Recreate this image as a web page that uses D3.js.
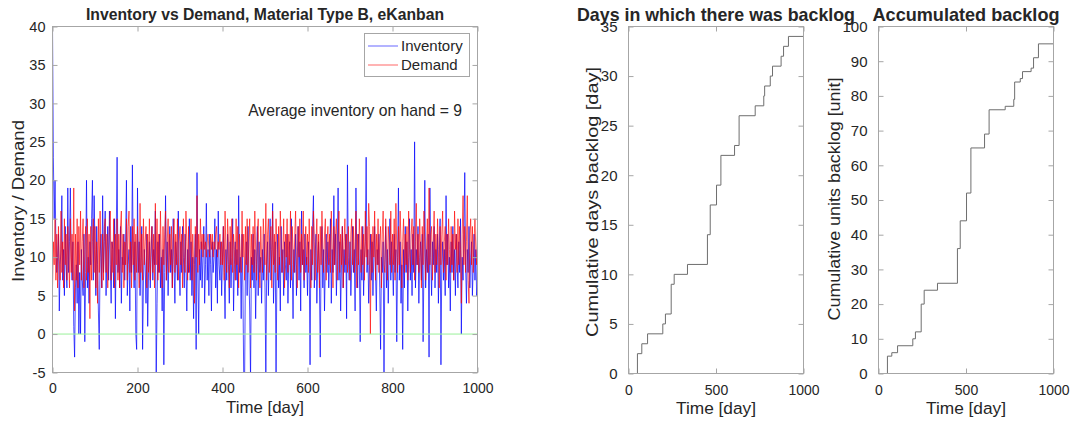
<!DOCTYPE html>
<html>
<head>
<meta charset="utf-8">
<script src="https://cdn.jsdelivr.net/npm/d3@7"></script>
<style>
  body { margin: 0; background: #fff; }
  text { font-family: "Liberation Sans", Arial, sans-serif; fill: #262626; }
</style>
</head>
<body>
<div id="container"></div>
<script>
// inventory and demand, one value every dayStep days (day 0 .. 1000)
let dayStep = 2;
let inventory = [
  40, 23, 15, 20, 12, 8, 10, 13, 3, 9, 11, 18, 7, 11, 5, 14, 9, 6, 19, 8, 12, 19, 10, 7, 12,
  1, -3, 6, 9, 4, 12, 0, 8, 0, 11, 7, 5, 13, -1, 8, 20, 6, 10, 4, 12, 9, 15, 20, 7, 18,
  11, 5, 14, 9, 3, -2, 10, 13, 6, 18, 8, 12, 16, 5, 10, 14, 7, 16, 9, 4, 12, 11, 6, 15, 2,
  13, 23, 8, 11, 6, 14, 4, 10, 9, 13, 7, 12, 20, 5, 9, 11, 3, 14, 8, 22, 10, 6, 12, 0, -2,
  19, 8, 12, 5, 10, 14, -2, 7, 11, 9, 4, 13, 1, 8, 12, 6, 10, 14, 7, 11, 9, 16, -6, 4, 12,
  8, 13, 6, 10, 3, 11, -4, 8, 18, 7, 12, 5, 10, 14, 8, 11, 6, 15, 9, 4, 12, 10, 7, 16, 9,
  5, 12, 8, 14, 10, 6, 13, 9, 3, 11, 8, 15, 7, 12, 5, 10, 2, 9, 13, -2, 21, 8, 0, 11, 7,
  12, 6, 10, 14, 4, 9, 17, 7, 11, 5, 13, 9, 3, 12, 8, 10, 15, 6, 11, 4, 16, 9, 7, 12, 5,
  10, 14, 8, 2, 11, 7, 13, 9, 4, 12, 6, 10, 15, 3, 9, 12, 7, 11, 5, 18, 8, 10, 2, 13, 6,
  -6, -6, 9, 12, 5, 14, 8, 3, -6, 10, 7, 13, 6, 11, 2, 9, 14, 5, 12, 8, 10, 4, 11, 7, 13,
  6, -6, 9, 12, 5, 10, 15, 7, 11, 17, 4, 9, 12, -6, 8, 13, 6, 10, 3, 14, 8, 11, 5, 12, 9,
  7, 13, 4, 10, 12, 6, 15, 9, 2, 11, 8, 13, 5, 10, 14, 7, 12, 3, 16, 9, 11, 6, 13, 8, 10,
  5, 12, 9, -4, 11, 7, 14, 18, 6, 10, 13, 4, 9, 12, 7, -3, 10, 14, 6, 11, 3, 9, 13, 8, 12,
  6, 10, 15, 4, 11, 8, 18, 9, 13, 5, 10, 19, 7, 12, 3, 9, 14, 6, 11, 8, 13, 2, 22, 10, 7,
  12, 5, 9, 14, 8, 11, 3, 19, 10, 6, 13, 9, -1, 11, 7, 14, 5, 10, 12, 23, 8, 11, 4, 9, 13,
  7, 12, 5, 10, 14, 8, 3, 11, 9, 13, 6, -2, 10, 8, 12, -6, 9, 14, 6, 11, 4, 10, 15, 7, 12,
  9, 5, 13, 8, 11, -1, 10, 19, 7, 12, 4, 9, -2, 11, 6, 14, 8, 12, 3, 10, 15, 7, 11, 5, 13,
  8, 25, 6, 11, 9, 14, 4, 10, 12, 7, 13, -1, 9, 20, 6, 11, 8, 13, -3, 19, 10, 5, 12, 9, 14,
  6, 11, 8, 13, 4, 10, 15, -4, 9, 12, 7, 11, 5, 18, 9, 13, 6, 10, 3, 12, 8, 14, 7, 11, 5,
  13, 9, 6, 12, 8, 15, 0, 10, 7, 13, 21, 9, 4, 11, 8, 14, 6, 10, 12, 5, 9, 13, 7, 11, 5,
  6
];
let demand = [
  6, 12, 9, 15, 7, 13, 6, 14, 10, 7, 16, 8, 12, 6, 15, 9, 13, 7, 14, 10, 6, 15, 8, 13, 7,
  19, 3, 13, 7, 15, 6, 14, 9, 16, 7, 12, 15, 6, 11, 14, 7, 15, 8, 13, 2, 14, 7, 12, 15, 8,
  14, 6, 12, 4, 15, 8, 16, 10, 6, 13, 7, 14, 15, 8, 13, 6, 11, 14, 16, 7, 12, 8, 15, 6, 13,
  9, 15, 7, 13, 6, 14, 16, 8, 13, 6, 12, 9, 15, 7, 14, 16, 8, 12, 6, 14, 9, 15, 7, 13, 8,
  14, 10, 6, 17, 8, 13, 7, 15, 9, 12, 14, 6, 13, 8, 15, 7, 12, 14, 8, 13, 6, 17, 9, 15, 7,
  13, 8, 16, 10, 6, 14, 9, 13, 16, 7, 12, 15, 8, 13, 9, 14, 6, 12, 15, 8, 13, 9, 15, 7, 12,
  14, 9, 13, 6, 15, 10, 8, 16, 12, 7, 14, 8, 11, 15, 7, 13, 9, 4, 14, 10, 18, 8, 13, 9, 15,
  11, 13, 10, 13, 11, 12, 10, 12, 13, 11, 10, 13, 11, 13, 10, 12, 11, 13, 14, 10, 12, 11, 13, 9, 12,
  9, 14, 7, 16, 11, 8, 15, 12, 6, 14, 9, 15, 8, 13, 11, 7, 15, 9, 14, 6, 13, 10, 8, 16, 10,
  13, 7, 14, 9, 15, 8, 12, 15, 6, 13, 9, 14, 8, 16, 11, 7, 13, 15, 9, 6, 14, 10, 8, 15, 12,
  9, 17, 7, 13, 15, 8, 12, 14, 6, 16, 9, 13, 8, 15, 11, 7, 14, 9, 16, 12, 8, 11, 15, 6, 13,
  10, 15, 8, 13, 9, 16, 7, 14, 11, 8, 13, 16, 9, 6, 14, 10, 15, 8, 13, 9, 16, 7, 12, 14, 9,
  13, 8, 15, 10, 6, 14, 9, 16, 12, 7, 12, 15, 8, 13, 6, 14, 9, 16, 11, 8, 13, 15, 7, 12, 14,
  9, 13, 8, 16, 11, 6, 14, 9, 13, 15, 7, 12, 16, 8, 13, 9, 14, 6, 12, 15, 9, 13, 8, 14, 10,
  7, 13, 15, 9, 14, 8, 12, 16, 6, 13, 9, 15, 11, 8, 14, 9, 13, 7, 16, 10, 14, 9, 17, 14, 0,
  13, 8, 14, 10, 16, 7, 13, 9, 15, 8, 12, 14, 6, 13, 16, 9, 8, 15, 11, 7, 14, 12, 9, 16, 8,
  13, 9, 15, 7, 17, 11, 8, 14, 9, 16, 12, 6, 12, 15, 8, 13, 9, 14, 7, 16, 11, 8, 13, 15, 9,
  14, 7, 12, 17, 9, 13, 8, 15, 11, 6, 14, 9, 16, 12, 7, 11, 15, 8, 19, 9, 13, 14, 7, 12, 16,
  8, 13, 9, 15, 11, 6, 14, 9, 13, 16, 8, 12, 14, 7, 13, 9, 15, 11, 8, 14, 9, 13, 7, 16, 11,
  13, 8, 15, 9, 14, 11, 4, 13, 18, 9, 14, 8, 12, 18, 7, 4, 13, 15, 9, 14, 8, 12, 15, 11, 9,
  14
];

// backlog step data
let backlogDays   = [0, 51, 76, 109, 196, 211, 244, 261, 337, 451, 467, 503, 528, 606, 632, 724, 773, 778, 810, 823, 872, 886, 914, 1000];
let cumDaysBacklog  = [0, 2, 3, 4, 5, 6, 9, 10, 11, 14, 17, 19, 22, 23, 26, 27, 28, 29, 30, 31, 32, 33, 34, 34];
let cumUnitsBacklog = [0, 5, 6, 8, 10, 12, 20, 24, 26, 36, 44, 52, 65, 69, 76, 77, 79, 84, 85, 87, 88, 91, 95, 95];

let w = 1073;
let h = 423;
let axisColor = '#a6a6a6';

let svg = d3.select('#container')
  .append('svg')
    .attr('width', w)
    .attr('height', h);

// draws a matlab style box with inward ticks on all sides
function drawBox(g, x, y, xTicks, yTicks, opt) {
  let [x0, x1] = x.range();
  let [y0, y1] = y.range();
  g.append('rect')
    .attr('x', x0).attr('y', y1)
    .attr('width', x1 - x0).attr('height', y0 - y1)
    .attr('fill', 'none')
    .attr('stroke', axisColor)
    .attr('stroke-width', 1);

  let fmt = function(d) { return String(d); };
  let bottom = g.append('g')
    .attr('transform', 'translate(0,' + y0 + ')')
    .call(d3.axisBottom(x).tickValues(xTicks).tickSize(-5).tickPadding(opt.xPad).tickFormat(fmt));
  let top = g.append('g')
    .attr('transform', 'translate(0,' + y1 + ')')
    .call(d3.axisTop(x).tickValues(xTicks).tickSize(-5).tickFormat(''));
  let left = g.append('g')
    .attr('transform', 'translate(' + x0 + ',0)')
    .call(d3.axisLeft(y).tickValues(yTicks).tickSize(-5).tickPadding(opt.yPad).tickFormat(fmt));
  let right = g.append('g')
    .attr('transform', 'translate(' + x1 + ',0)')
    .call(d3.axisRight(y).tickValues(yTicks).tickSize(-5).tickFormat(''));

  [bottom, top, left, right].forEach(function(a) {
    a.select('.domain').remove();
    a.selectAll('line').attr('stroke', axisColor);
    a.selectAll('text').attr('fill', '#262626')
      .style('font-family', '"Liberation Sans", Arial, sans-serif');
  });
  bottom.selectAll('text').style('font-size', opt.xFont + 'px');
  left.selectAll('text').style('font-size', opt.yFont + 'px');
}

// text with its length fixed to the width measured on the picture
function label(g, txt, x, y, size, len, bold, rotate) {
  let t = g.append('text')
    .attr('text-anchor', 'middle')
    .style('font-size', size + 'px')
    .attr('textLength', len)
    .attr('lengthAdjust', 'spacingAndGlyphs')
    .text(txt);
  if (rotate) {
    t.attr('transform', 'translate(' + x + ',' + y + ') rotate(-90)');
  } else {
    t.attr('x', x).attr('y', y);
  }
  if (bold) {
    t.style('font-weight', 'bold').attr('fill', '#000');
  }
  return t;
}

//----- left chart: inventory vs demand
let x1 = d3.scaleLinear().domain([0, 1000]).range([52.5, 477.5]);
let y1 = d3.scaleLinear().domain([-5, 40]).range([372.5, 26.5]);

let left = svg.append('g');

left.append('clipPath').attr('id', 'clipLeft')
  .append('rect')
    .attr('x', 52.5).attr('y', 26.5)
    .attr('width', 425).attr('height', 346);

let line1 = d3.line()
  .x(function(d, i) { return x1(i * dayStep); })
  .y(function(d) { return y1(d); });

left.append('path')
  .datum(inventory)
  .attr('d', line1)
  .attr('clip-path', 'url(#clipLeft)')
  .attr('fill', 'none')
  .attr('stroke', '#0000ff')
  .attr('stroke-width', 0.7);

left.append('path')
  .datum(demand)
  .attr('d', line1)
  .attr('clip-path', 'url(#clipLeft)')
  .attr('fill', 'none')
  .attr('stroke', '#ff0000')
  .attr('stroke-width', 0.8)
  .attr('stroke-opacity', 0.8);

// zero line
left.append('line')
  .attr('x1', x1(0)).attr('x2', x1(1000))
  .attr('y1', y1(0)).attr('y2', y1(0))
  .attr('stroke', '#9af09a')
  .attr('stroke-width', 1);

drawBox(left, x1, y1, d3.range(0, 1001, 200), d3.range(-5, 41, 5),
  { xPad: 11, yPad: 7, xFont: 14, yFont: 14.5 });

// legend
let legend = left.append('g');
legend.append('rect')
  .attr('x', 364.5).attr('y', 33.5)
  .attr('width', 105).attr('height', 43)
  .attr('fill', '#fff')
  .attr('stroke', axisColor);
let legendItems = [['Inventory', '#0000ff', 46], ['Demand', '#ff0000', 65]];
legendItems.forEach(function(d) {
  legend.append('line')
    .attr('x1', 368).attr('x2', 398)
    .attr('y1', d[2]).attr('y2', d[2])
    .attr('stroke', d[1]).attr('stroke-width', 0.6);
  legend.append('text')
    .attr('x', 401).attr('y', d[2] + 5)
    .style('font-size', '15px')
    .text(d[0]);
});

left.append('text')
  .attr('x', 462).attr('y', 116)
  .attr('text-anchor', 'end')
  .style('font-size', '15.7px')
  .text('Average inventory on hand = 9');

label(left, 'Inventory vs Demand, Material Type B, eKanban', 265, 20, 15.7, 358, true, false);
label(left, 'Time [day]', 265, 413, 16.5, 78, false, false);
label(left, 'Inventory / Demand', 24, 201, 16.5, 162, false, true);

//----- step charts
function stepChart(x0, x1r, yMax, yTicks, values, title, titleLen, ylabel, ylabelX, ylabelY, ylabelLen) {
  let x = d3.scaleLinear().domain([0, 1000]).range([x0, x1r]);
  let y = d3.scaleLinear().domain([0, yMax]).range([373.5, 26.5]);
  let g = svg.append('g');

  let step = d3.line()
    .x(function(d, i) { return x(backlogDays[i]); })
    .y(function(d) { return y(d); })
    .curve(d3.curveStepAfter);

  g.append('path')
    .datum(values)
    .attr('d', step)
    .attr('fill', 'none')
    .attr('stroke', '#6e6e6e')
    .attr('stroke-width', 1);

  drawBox(g, x, y, [0, 500, 1000], yTicks,
    { xPad: 12, yPad: 11, xFont: 14, yFont: 15 });

  label(g, title, (x0 + x1r) / 2, 20.5, 17.8, titleLen, true, false);
  label(g, 'Time [day]', (x0 + x1r) / 2, 414, 16.8, 80, false, false);
  label(g, ylabel, ylabelX, ylabelY, 16.8, ylabelLen, false, true);
}

stepChart(628.5, 803.5, 35, d3.range(0, 36, 5), cumDaysBacklog,
  'Days in which there was backlog', 278, 'Cumulative days backlog [day]', 598, 202, 270);
stepChart(878.5, 1053.5, 100, d3.range(0, 101, 10), cumUnitsBacklog,
  'Accumulated backlog', 187, 'Cumulative units backlog [unit]', 840, 199, 243);
</script>
</body>
</html>
